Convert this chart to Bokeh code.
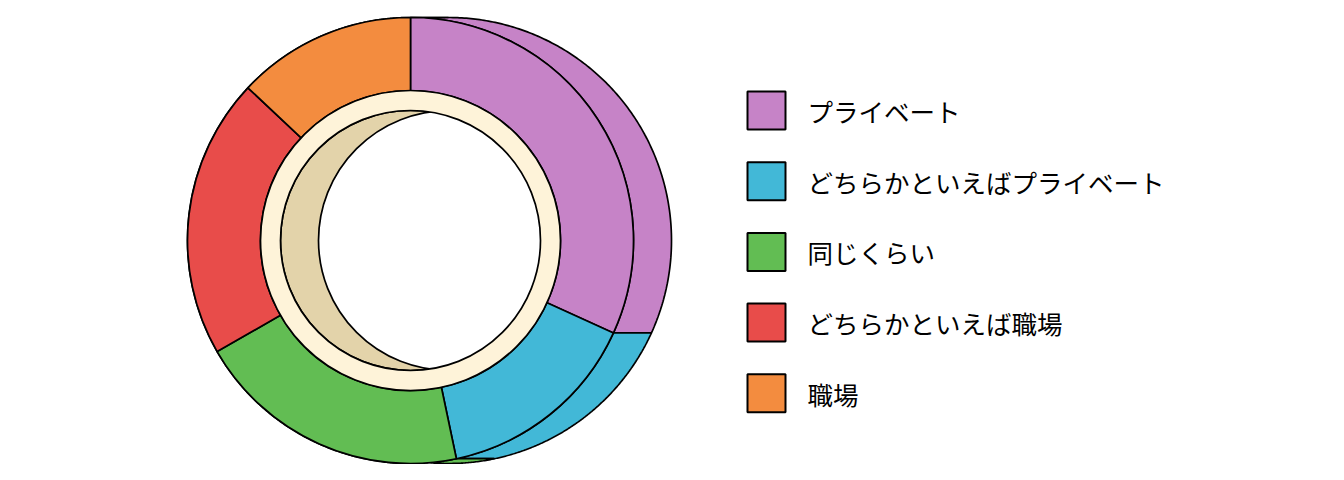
import numpy as np
from bokeh.plotting import figure
from bokeh.models import Range1d, ColumnDataSource
from bokeh.core.properties import value
from bokeh.embed import file_html
from bokeh.resources import INLINE

# ---- data ----
categories = ["プライベート", "どちらかといえばプライベート", "同じくらい", "どちらかといえば職場", "職場"]
values = [31.8, 14.9, 20.0, 20.3, 13.0]
colors = ["#C683C7", "#42B8D7", "#62BD53", "#E84C4A", "#F38C3F"]

# ---- styles / geometry ----
CREAM = "#FEF3D9"
TAN = "#E3D3AA"
CX, CY = 410, 240
R_OUT, R_IN, R_HOLE = 223, 150, 130
DEPTH = 38
LW = 1.7

W, H = 1328, 464
p = figure(width=W, height=H, output_backend="svg", toolbar_location=None,
           x_range=Range1d(0, W), y_range=Range1d(480 - H, 480),
           min_border=0, outline_line_color=None)
p.axis.visible = False
p.grid.visible = False
p.background_fill_color = "white"
p.border_fill_color = "white"

vals = np.array(values, dtype=float)
frac = vals / vals.sum()
cum = np.concatenate([[0], np.cumsum(frac)])
start = np.pi / 2 - 2 * np.pi * cum[:-1]
end = np.pi / 2 - 2 * np.pi * cum[1:]

# extruded side faces (outer cylinder)
xs, ys = [], []
for a0, a1 in zip(start, end):
    t = np.linspace(a0, a1, 200)
    mx = CX + R_OUT * np.cos(t)
    my = CY + R_OUT * np.sin(t)
    xs.append(np.concatenate([mx, (mx + DEPTH)[::-1]]).tolist())
    ys.append(np.concatenate([my, my[::-1]]).tolist())
p.patches(xs=xs, ys=ys, fill_color=colors, line_color="black", line_width=LW)

# inner hole: inner cylinder (tan) and far opening (white)
p.circle(x=[CX], y=[CY], radius=R_HOLE, fill_color=TAN, line_color="black", line_width=LW)
p.circle(x=[CX + DEPTH], y=[CY], radius=R_HOLE, fill_color="white", line_color="black", line_width=LW)

# front face slices
src = ColumnDataSource(dict(start=start, end=end, color=colors, cat=categories))
p.annular_wedge(x=CX, y=CY, inner_radius=R_IN, outer_radius=R_OUT,
                start_angle="start", end_angle="end", direction="clock",
                fill_color="color", line_color="black", line_width=LW, source=src)

# cream inner ring
p.annulus(x=[CX], y=[CY], inner_radius=R_HOLE, outer_radius=R_IN,
          fill_color=CREAM, line_color="black", line_width=LW)

# legend
n = len(categories)
ly = [480 - (110 + i * 70.7) for i in range(n)]
p.rect(x=[766] * n, y=ly, width=38, height=38, fill_color=colors,
       line_color="black", line_width=2)
p.text(x=[807] * n, y=ly, text=categories, text_font=value("Noto Sans CJK JP"),
       text_font_size="25.5px", text_baseline="middle", text_align="left",
       text_color="black")

open("out.html", "w").write(file_html(p, INLINE))
